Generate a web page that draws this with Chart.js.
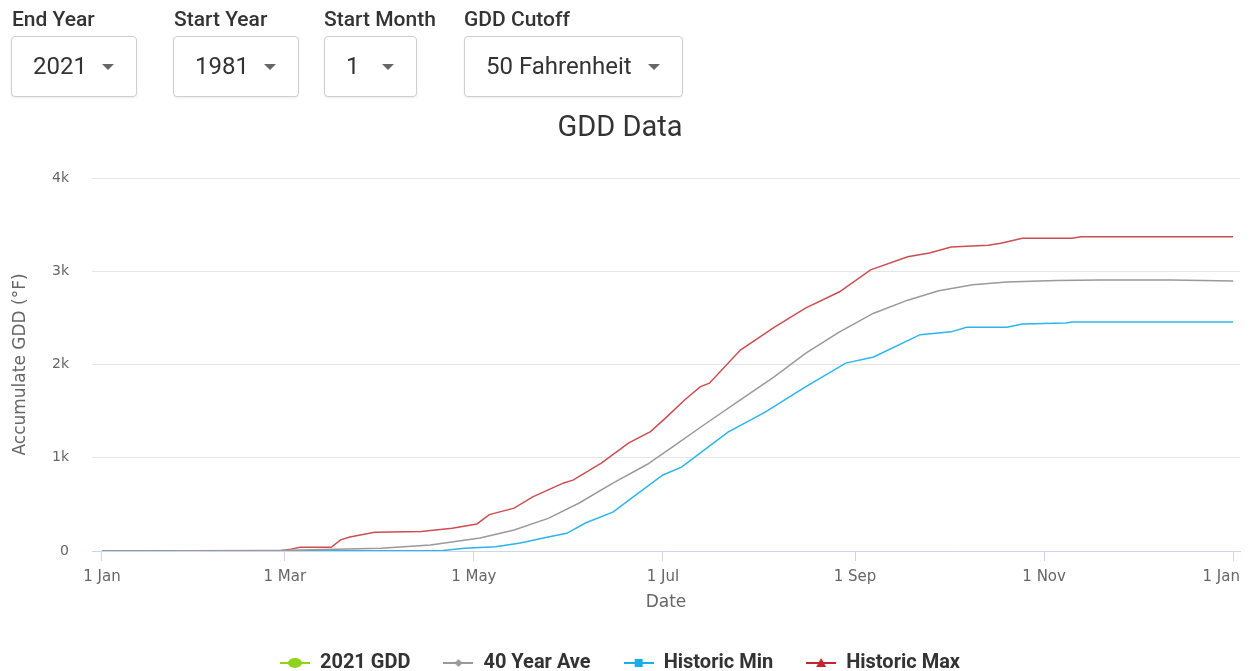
<!DOCTYPE html>
<html lang="en">
<head>
    <meta charset="UTF-8">
    <title>GDD Data</title>
    <script src="https://cdn.jsdelivr.net/npm/chart.js"></script>
    <style>
        body {
            margin: 0;
            width: 1250px;
            height: 671px;
            overflow: hidden;
            background: #fff;
            font-family: Roboto, sans-serif;
        }
        #chart-container {
            position: absolute;
            left: 0;
            top: 0;
            width: 1250px;
            height: 671px;
        }
        .ctl-label {
            position: absolute;
            top: 7px;
            font-size: 21px;
            font-weight: 500;
            color: #333;
            white-space: nowrap;
        }
        .ctl-box {
            position: absolute;
            top: 36px;
            height: 59px;
            border: 1px solid #cfcfcf;
            border-radius: 4px;
            box-shadow: 0 1px 2px rgba(0,0,0,0.08);
            background: #fff;
            font-size: 24px;
            color: #333;
            line-height: 59px;
            box-sizing: content-box;
        }
        .ctl-box span { position: absolute; left: 21px; }
        .ctl-box i {
            position: absolute;
            right: 22px;
            top: 27px;
            width: 0;
            height: 0;
            border-left: 6px solid transparent;
            border-right: 6px solid transparent;
            border-top: 6px solid #666;
        }
    </style>
</head>
<body>
    <div id="chart-container">
        <canvas id="lineChart" width="1250" height="671"></canvas>
    </div>

    <div class="ctl-label" style="left:12px">End Year</div>
    <div class="ctl-box" style="left:11px;width:124px"><span>2021</span><i></i></div>
    <div class="ctl-label" style="left:174px">Start Year</div>
    <div class="ctl-box" style="left:173px;width:124px"><span>1981</span><i></i></div>
    <div class="ctl-label" style="left:324px">Start Month</div>
    <div class="ctl-box" style="left:324px;width:91px"><span>1</span><i></i></div>
    <div class="ctl-label" style="left:464px">GDD Cutoff</div>
    <div class="ctl-box" style="left:464px;width:217px"><span>50 Fahrenheit</span><i></i></div>

    <script>
        // x = day of year (0 = 1 Jan), y = accumulated GDD (°F)
        const tickDays = [0, 59, 120, 181, 243, 304, 365];
        const tickLabels = ["1 Jan", "1 Mar", "1 May", "1 Jul", "1 Sep", "1 Nov", "1 Jan"];

        const gdd2021Days = [];
        const gdd2021Values = [];

        const aveDays = [0, 57, 90, 106, 122, 133, 144, 154, 165, 176, 184, 195, 206, 217, 227, 238, 249, 260, 270, 281, 292, 308, 322, 345, 365];
        const aveValues = [0, 5, 30, 65, 140, 225, 350, 515, 730, 930, 1115, 1370, 1620, 1870, 2120, 2350, 2550, 2690, 2790, 2855, 2885, 2900, 2905, 2905, 2895];

        const minDays = [0, 110, 117, 127, 135, 144, 150, 156, 165, 171, 181, 187, 193, 202, 214, 227, 240, 249, 264, 274, 279, 292, 297, 311, 313, 365];
        const minValues = [0, 5, 30, 45, 85, 150, 190, 300, 420, 570, 815, 900, 1050, 1275, 1490, 1760, 2015, 2080, 2320, 2350, 2400, 2400, 2435, 2445, 2455, 2455];

        const maxDays = [0, 58, 61, 64, 74, 77, 80, 88, 103, 113, 121, 125, 133, 139, 149, 152, 161, 170, 177, 182, 188, 193, 196, 206, 217, 227, 238, 248, 260, 267, 274, 286, 290, 297, 313, 316, 365];
        const maxValues = [0, 5, 20, 40, 40, 120, 150, 200, 210, 245, 290, 390, 460, 580, 730, 760, 940, 1160, 1280, 1430, 1620, 1760, 1800, 2155, 2400, 2605, 2780, 3015, 3155, 3195, 3260, 3280, 3300, 3355, 3355, 3370, 3370];

        function toPoints(days, values) {
            return days.map((d, i) => ({ x: d, y: values[i] }));
        }

        // legend symbol: short line with a marker, like the original
        function legendIcon(color, marker) {
            const c = document.createElement("canvas");
            c.width = 30;
            c.height = 14;
            const g = c.getContext("2d");
            g.strokeStyle = color;
            g.lineWidth = 2;
            g.beginPath();
            g.moveTo(0, 7);
            g.lineTo(30, 7);
            g.stroke();
            g.fillStyle = color;
            g.beginPath();
            if (marker === "circle") {
                g.ellipse(15, 7, 7, 5, 0, 0, Math.PI * 2);
            } else if (marker === "diamond") {
                g.moveTo(15, 3); g.lineTo(19, 7); g.lineTo(15, 11); g.lineTo(11, 7);
            } else if (marker === "square") {
                g.rect(11, 3, 8, 8);
            } else {
                g.moveTo(15, 2); g.lineTo(20, 11); g.lineTo(10, 11);
            }
            g.closePath();
            g.fill();
            return c;
        }

        const ctx = document.getElementById("lineChart").getContext("2d");

        new Chart(ctx, {
            type: "line",
            data: {
                datasets: [
                    { label: "2021 GDD", data: toPoints(gdd2021Days, gdd2021Values), borderColor: "#90d21e", icon: legendIcon("#90d21e", "circle") },
                    { label: "40 Year Ave", data: toPoints(aveDays, aveValues), borderColor: "#9a9a9a", icon: legendIcon("#999999", "diamond") },
                    { label: "Historic Min", data: toPoints(minDays, minValues), borderColor: "#2bb5ec", icon: legendIcon("#1aaee8", "square") },
                    { label: "Historic Max", data: toPoints(maxDays, maxValues), borderColor: "#cd4e50", icon: legendIcon("#c0282d", "triangle") }
                ]
            },
            options: {
                responsive: false,
                animation: false,
                devicePixelRatio: 1,
                layout: { padding: { top: 100, right: 10, left: 0, bottom: -12 } },
                elements: {
                    line: { borderWidth: 1.5, tension: 0 },
                    point: { radius: 0 }
                },
                plugins: {
                    title: {
                        display: true,
                        text: "GDD Data",
                        color: "#333",
                        font: { family: "Roboto", size: 29, weight: "normal" },
                        padding: { top: 11.6, bottom: 31.6 }
                    },
                    legend: {
                        position: "bottom",
                        labels: {
                            usePointStyle: true,
                            pointStyleWidth: 30,
                            padding: 33,
                            color: "#333",
                            font: { family: "Roboto", size: 20, weight: "bold" },
                            generateLabels: chart => chart.data.datasets.map((ds, i) => ({
                                text: ds.label,
                                pointStyle: ds.icon,
                                fontColor: "#333",
                                datasetIndex: i,
                                hidden: false,
                                lineWidth: 0
                            }))
                        }
                    },
                    tooltip: { enabled: false }
                },
                scales: {
                    x: {
                        type: "linear",
                        min: -3.2,
                        max: 367.2,
                        afterBuildTicks: scale => {
                            scale.ticks = tickDays.map(v => ({ value: v }));
                        },
                        afterFit: scale => {
                            scale.height = 69;
                            scale.paddingLeft = 0;
                            scale.paddingRight = 0;
                        },
                        ticks: {
                            autoSkip: false,
                            maxRotation: 0,
                            padding: 7,
                            color: "#666",
                            font: { family: "DejaVu Sans", size: 15 },
                            // last label is nudged left so it stays inside the canvas
                            callback: (v, i) => i === tickLabels.length - 1 ? tickLabels[i] + "     " : tickLabels[i]
                        },
                        grid: { drawOnChartArea: false, drawTicks: true, tickLength: 10, tickColor: "#ccd6eb" },
                        border: { color: "#ccd6eb", width: 1 },
                        title: {
                            display: true,
                            text: "Date",
                            color: "#666",
                            font: { family: "DejaVu Sans", size: 17 },
                            padding: { top: 0, bottom: 7 }
                        }
                    },
                    y: {
                        min: 0,
                        max: 4000,
                        afterFit: scale => { scale.width = 92; },
                        ticks: {
                            stepSize: 1000,
                            padding: 23,
                            color: "#666",
                            font: { family: "DejaVu Sans", size: 14 },
                            callback: v => v === 0 ? "0" : (v / 1000) + "k"
                        },
                        grid: { color: "#e6e6e6", drawTicks: false },
                        border: { display: false },
                        title: {
                            display: true,
                            text: "Accumulate GDD (°F)",
                            color: "#666",
                            font: { family: "DejaVu Sans", size: 17 },
                            padding: { top: 10, bottom: 0 }
                        }
                    }
                }
            }
        });
    </script>
</body>
</html>
